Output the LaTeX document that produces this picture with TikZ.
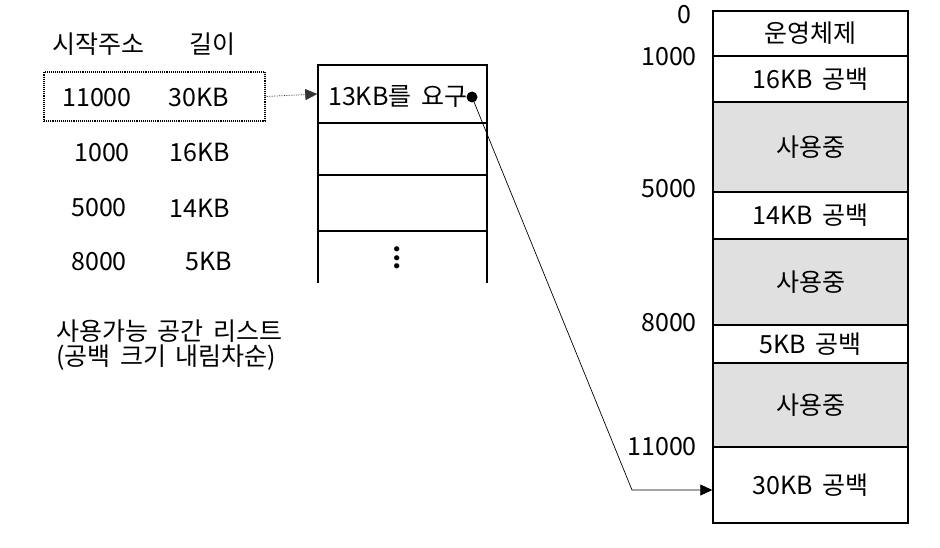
\documentclass[tikz,border=0pt]{standalone}
\usepackage{fontspec}
\setmainfont[WordSpace=1.7]{Noto Sans CJK KR}
\usetikzlibrary{arrows.meta}
\tikzset{
  txt/.style={font=\fontsize{25}{28}\selectfont, inner sep=0pt, anchor=center},
  mem/.style={draw, line width=1.4pt, minimum width=195pt, inner sep=0pt, font=\fontsize{25}{28}\selectfont},
  used/.style={mem, fill=black!12},
  cell/.style={draw, line width=1.4pt, minimum width=169pt, inner sep=0pt, font=\fontsize{25}{28}\selectfont},
  lbl/.style={font=\fontsize{25}{28}\selectfont, inner sep=0pt, anchor=east},
  arr/.style={-{Triangle[length=12pt,width=11pt]}, line width=0.7pt},
}
\begin{document}
\begin{tikzpicture}[x=1pt,y=-1pt]
\useasboundingbox (0,0) rectangle (940,548);
% left list
\node[txt] (h1) at (98,44) {시작주소};
\node[txt] (h2) at (212,44) {길이};
\node[txt] (a1) at (97,98) {11000};
\node[txt] (b1) at (199,98) {30KB};
\node[txt] (a2) at (102,153) {1000};
\node[txt] (b2) at (200,153) {16KB};
\node[txt] (a3) at (99,208) {5000};
\node[txt] (b3) at (200,208) {14KB};
\node[txt] (a4) at (99,262) {8000};
\node[txt] (b4) at (209,262) {5KB};
\node[draw, densely dotted, line width=1.1pt, minimum width=221pt, minimum height=49pt, inner sep=0pt] (sel) at (154.5,96.5) {};
\node[txt, anchor=west] (t1) at (56,331) {사용가능 공간 리스트};
\node[txt, anchor=west] (t2) at (56,358) {(공백 크기 내림차순)};
% middle list
\node[cell, minimum height=58pt] (m1) at (402.5,94) {};
\node[txt, anchor=west] (req) at (328,96) {13KB를 요구};
\node[cell, minimum height=52pt] (m2) at (402.5,149) {};
\node[cell, minimum height=56pt] (m3) at (402.5,203) {};
\coordinate (m4l) at (318,231);
\coordinate (m4r) at (487,231);
\coordinate (m4lb) at (318,283);
\coordinate (m4rb) at (487,283);
\draw[line width=1.4pt] (m4l) -- (m4lb) (m4r) -- (m4rb);
\node[txt] (dots) at (397,258) {\rotatebox{90}{\fontsize{24}{24}\selectfont\textbf{...}}};
% memory
\node[mem, minimum height=45pt] (os) at (810.5,33.5) {운영체제};
\node[mem, minimum height=46pt] (f16) at (810.5,79) {16KB 공백};
\node[used, minimum height=90pt] (u1) at (810.5,147) {사용중};
\node[mem, minimum height=47pt] (f14) at (810.5,215.5) {14KB 공백};
\node[used, minimum height=86pt] (u2) at (810.5,282) {사용중};
\node[mem, minimum height=38pt] (f5) at (810.5,344) {5KB 공백};
\node[used, minimum height=84pt] (u3) at (810.5,405) {사용중};
\node[mem, minimum height=76pt] (f30) at (810.5,485) {30KB 공백};
\node[lbl] (l0) at (692,15) {0};
\node[lbl] (l1) at (697,57) {1000};
\node[lbl] (l5) at (697,189) {5000};
\node[lbl] (l8) at (697,323) {8000};
\node[lbl] (l11) at (697,447) {11000};
% connectors
\draw[arr, densely dotted, black!80] (sel.east) -- (m1.west);
\node[circle, fill=black, inner sep=0pt, minimum size=11pt] (dot) at (472,97) {};
\coordinate (bend) at (632,490);
\draw[arr] (dot.center) -- (bend) -- (f30.west |- bend);
\end{tikzpicture}
\end{document}
